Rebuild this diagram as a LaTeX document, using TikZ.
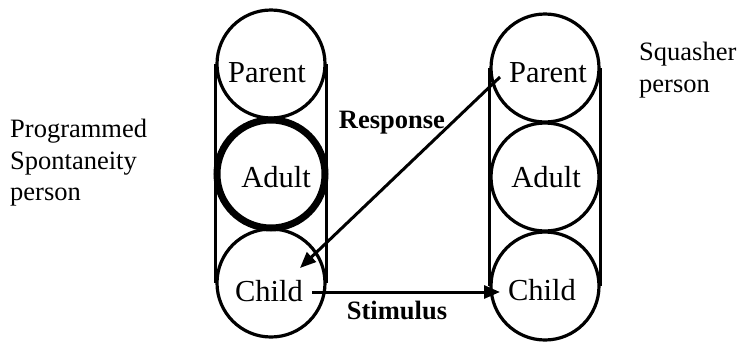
\documentclass[tikz,border=0pt]{standalone}
\usepackage{fontspec}
\setmainfont{Liberation Serif}
\usetikzlibrary{arrows.meta}
\begin{document}
\begin{tikzpicture}[x=1pt,y=-1pt,
  egostate/.style={circle,draw,line width=3.2pt,minimum size=108pt,inner sep=0pt},
  egotext/.style={anchor=base,inner sep=0pt,font=\fontsize{30.5}{36}\selectfont},
  rail/.style={line width=3.2pt},
  sidetext/.style={anchor=north west,inner sep=0pt,align=left,font=\fontsize{26.5}{31.5}\selectfont},
  tlabel/.style={anchor=base,inner sep=0pt,font=\fontsize{26.5}{31}\selectfont\bfseries},
  tarrow/.style={line width=3pt,-{Triangle[length=16pt,width=13pt]}}]
\useasboundingbox (0,0) rectangle (739,341);
% left column
\node[egostate] (lp) at (271,64) {};
\node[egostate] (la) at (271,174) {};
\node[egostate] (lc) at (271,283) {};
\draw[line width=7pt] (la) circle (54pt);
\draw[rail] (lp.west) -- (lc.west);
\draw[rail] (lp.east) -- (lc.east);
\node[egotext] (lpt) at (267,82) {Parent};
\node[egotext] (lat) at (276,187) {Adult};
\node[egotext] (lct) at (269,301) {Child};
% right column
\node[egostate] (rp) at (545,68) {};
\node[egostate] (ra) at (545,177) {};
\node[egostate] (rc) at (545,286) {};
\draw[rail] (rp.west) -- (rc.west);
\draw[rail] (rp.east) -- (rc.east);
\node[egotext] (rpt) at (548,82) {Parent};
\node[egotext] (rat) at (546,187) {Adult};
\node[egotext] (rct) at (542,300) {Child};
% side texts
\node[sidetext] (prog) at (10,119) {Programmed\\Spontaneity\\person};
\node[sidetext] (squ) at (639,42) {Squasher\\person};
% transactions
\coordinate (rs) at (500,77);
\coordinate (re) at (300,268);
\coordinate (ss) at (312,292);
\coordinate (se) at (500,292);
\draw[tarrow] (rs) -- (re);
\draw[tarrow] (ss) -- (se);
\node[tlabel] (resp) at (392,128) {Response};
\node[tlabel] (stim) at (397,319) {Stimulus};
\end{tikzpicture}
\end{document}
